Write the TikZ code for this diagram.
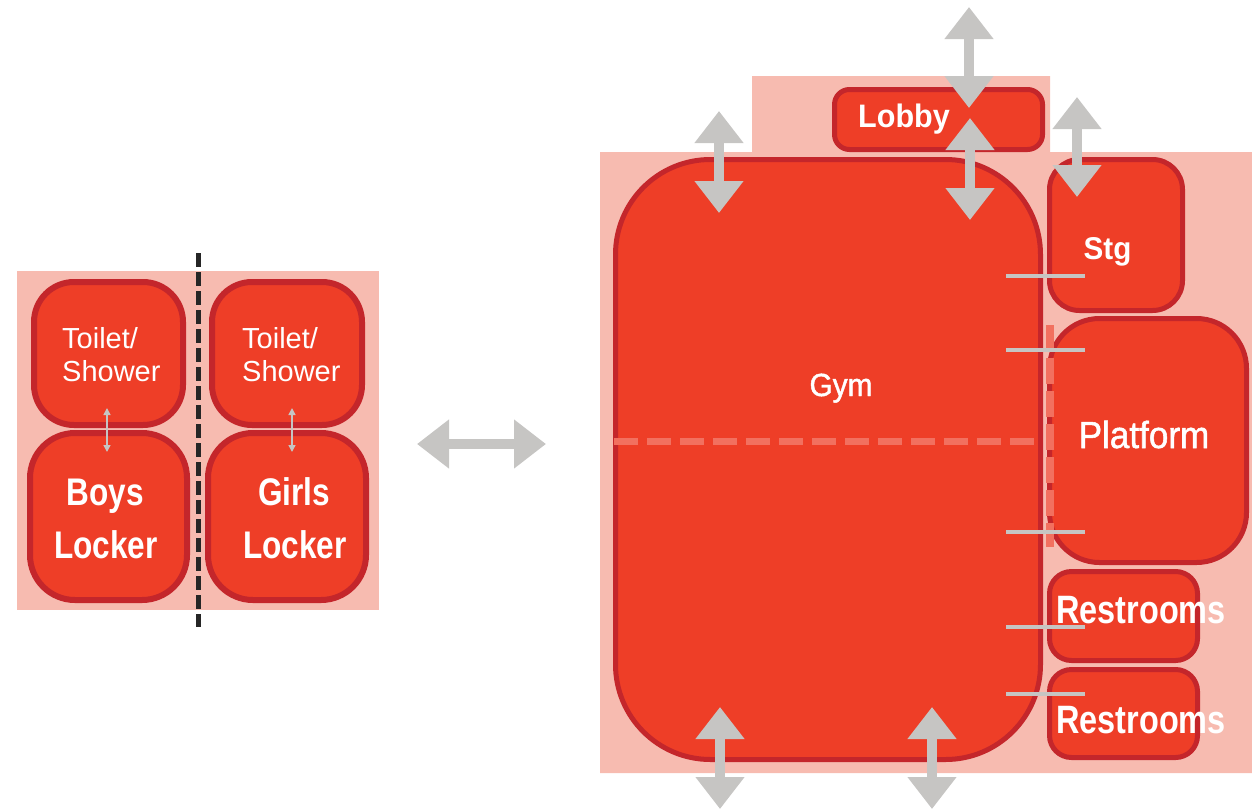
\documentclass[tikz,border=0pt]{standalone}
\usepackage{fontspec}
\setmainfont{Liberation Sans}
\newfontfamily\fA[FakeStretch=0.82]{Liberation Sans}
\newfontfamily\fB[FakeStretch=0.94]{Liberation Sans}
\newfontfamily\fD[FakeStretch=0.93,FakeBold=1.4]{Liberation Sans}
\usetikzlibrary{arrows.meta}
\definecolor{roomfill}{HTML}{EE3E27}
\definecolor{roomline}{HTML}{C4262B}
\definecolor{bgpink}{HTML}{F7BBB0}
\definecolor{arrowgray}{HTML}{C6C5C3}
\definecolor{dashsalmon}{HTML}{F2705F}
\begin{document}
\begin{tikzpicture}[x=1pt,y=-1pt,
  room/.style={draw=roomline, fill=roomfill, line width=5pt, rectangle, inner sep=0pt},
  lroom/.style={room, line width=6pt},
  lbl/.style={text=white, inner sep=0pt, anchor=base},
  bigarrow/.style={draw=arrowgray, line width=10pt, {Triangle[width=47pt,length=32pt]}-{Triangle[width=47pt,length=32pt]}},
  smallarrow/.style={draw=arrowgray, line width=1.5pt, {Triangle[width=7pt,length=7pt]}-{Triangle[width=7pt,length=7pt]}},
  tick/.style={draw=arrowgray, line width=4pt},
  zonedash/.style={draw=dashsalmon, line width=7pt, dash pattern=on 24pt off 9pt},
  splitdash/.style={draw=black!85, line width=5pt, dash pattern=on 14pt off 5pt},
  small/.style={font=\fontsize{29}{33}\selectfont},
  lockerfont/.style={font={\fA\bfseries\fontsize{38.5}{45}\selectfont}},
]
\useasboundingbox (0,0) rectangle (1252,809);
% backgrounds
\fill[bgpink] (17,271) rectangle (379,610);
\fill[bgpink] (600,152) -- (752,152) -- (752,76) -- (1050,76) -- (1050,152) -- (1252,152) -- (1252,773) -- (600,773) -- cycle;

% left rooms
\node[lroom, minimum width=149pt, minimum height=143pt, rounded corners=40pt] (toiletL) at (108.5,353.5) {};
\node[lroom, minimum width=157pt, minimum height=167pt, rounded corners=45pt] (boys) at (108.5,516.5) {};
\node[lroom, minimum width=150pt, minimum height=143pt, rounded corners=40pt] (toiletR) at (287,353.5) {};
\node[lroom, minimum width=158pt, minimum height=167pt, rounded corners=45pt] (girls) at (287,516.5) {};

% right rooms
\node[room, minimum width=208pt, minimum height=60pt, rounded corners=15pt] (lobby) at (938.5,119.5) {};
\node[room, minimum width=425pt, minimum height=600pt, rounded corners=95pt] (gym) at (828,459.5) {};
\node[room, minimum width=133pt, minimum height=151pt, rounded corners=30pt] (stg) at (1116,235) {};
\node[room, minimum width=197pt, minimum height=244pt, rounded corners=50pt] (platform) at (1148,440.5) {};
\node[room, minimum width=148pt, minimum height=89pt, rounded corners=22pt] (rest1) at (1123.5,616) {};
\node[room, minimum width=148pt, minimum height=88pt, rounded corners=22pt] (rest2) at (1123.5,713.5) {};

% dashed lines
\coordinate (hd1) at (614,441);
\coordinate (hd2) at (1036,441);
\draw[zonedash] (hd1) -- (hd2);
\coordinate (vd1) at (1050,325);
\coordinate (vd2) at (1050,547);
\draw[zonedash, line width=8pt, dash pattern=on 26pt off 7pt] (vd1) -- (vd2);
\coordinate (bd1) at (198,253);
\coordinate (bd2) at (198,627);
\draw[splitdash] (bd1) -- (bd2);

% ticks
\foreach \y/\n in {276/a,350/b,532/c,627/d,694/e}{
  \coordinate (tk\n1) at (1006,\y);
  \coordinate (tk\n2) at (1085,\y);
  \draw[tick] (tk\n1) -- (tk\n2);
}

% small arrows
\coordinate (sa1) at (107,408);
\coordinate (sa2) at (107,452);
\draw[smallarrow] (sa1) -- (sa2);
\coordinate (sb1) at (292,408);
\coordinate (sb2) at (292,452);
\draw[smallarrow] (sb1) -- (sb2);

% labels
\node[lbl, small, anchor=base west] (t1a) at (62,348) {Toilet/};
\node[lbl, small, anchor=base west] (t1b) at (62,381) {Shower};
\node[lbl, small, anchor=base west] (t2a) at (242,348) {Toilet/};
\node[lbl, small, anchor=base west] (t2b) at (242,381) {Shower};
\node[lbl, lockerfont] (b1) at (105,505) {Boys};
\node[lbl, lockerfont] (b2) at (106,558) {Locker};
\node[lbl, lockerfont] (g1) at (294,505) {Girls};
\node[lbl, lockerfont] (g2) at (295,558) {Locker};
\node[lbl, font={\fD\fontsize{32}{38}\selectfont}] (gymt) at (841,396) {Gym};
\node[lbl, font={\fD\fontsize{37.7}{44}\selectfont}] (platt) at (1144,448) {Platform};
\node[lbl, font={\fB\bfseries\fontsize{31.5}{36}\selectfont}] (stgt) at (1107.5,259) {Stg};
\node[lbl, font={\fB\bfseries\fontsize{32.5}{38}\selectfont}] (lobt) at (904,127) {Lobby};
\node[lbl, font={\fA\bfseries\fontsize{39.6}{46}\selectfont}] (r1t) at (1141,623) {Restrooms};
\node[lbl, font={\fA\bfseries\fontsize{39.6}{46}\selectfont}] (r2t) at (1141,733) {Restrooms};

% big arrows
\coordinate (a1s) at (719,111);  \coordinate (a1e) at (719,213);
\coordinate (a2s) at (969,7);    \coordinate (a2e) at (969,108);
\coordinate (a3s) at (970,118);  \coordinate (a3e) at (970,220);
\coordinate (a4s) at (1077,97);  \coordinate (a4e) at (1077,197);
\coordinate (a5s) at (720,707);  \coordinate (a5e) at (720,809);
\coordinate (a6s) at (932,707);  \coordinate (a6e) at (932,809);
\coordinate (hs) at (417,444);   \coordinate (he) at (546,444);
\draw[bigarrow] (a1s) -- (a1e);
\draw[bigarrow] (a2s) -- (a2e);
\draw[bigarrow] (a3s) -- (a3e);
\draw[bigarrow] (a4s) -- (a4e);
\draw[bigarrow] (a5s) -- (a5e);
\draw[bigarrow] (a6s) -- (a6e);
\draw[bigarrow] (hs) -- (he);
\end{tikzpicture}
\end{document}
